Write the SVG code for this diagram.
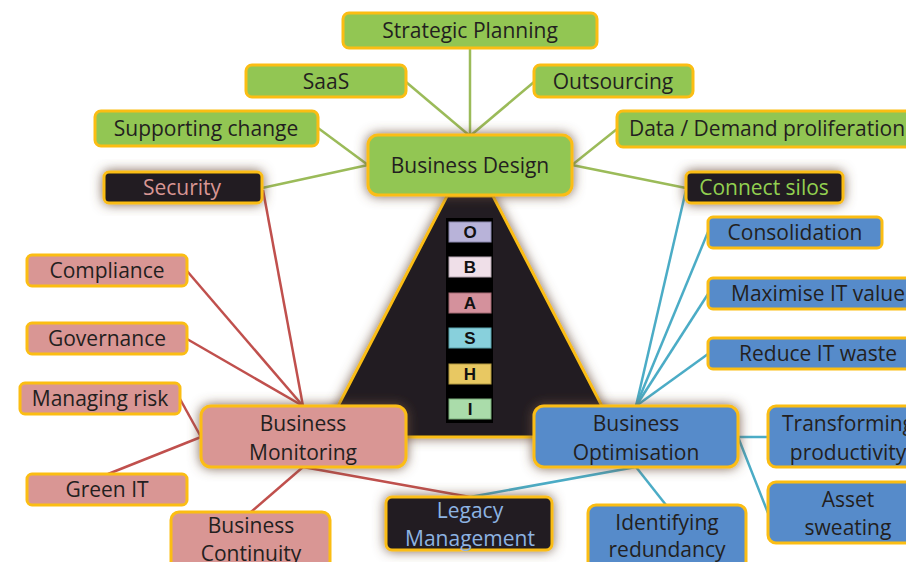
<svg xmlns="http://www.w3.org/2000/svg" width="906" height="562" viewBox="0 0 906 562">
<defs>
<filter id="glow" x="-30%" y="-40%" width="160%" height="180%">
<feGaussianBlur in="SourceAlpha" stdDeviation="6" result="b"/>
<feFlood flood-color="#6b4f3c" flood-opacity="0.85"/>
<feComposite operator="in" in2="b" result="s"/>
<feMerge><feMergeNode in="s"/><feMergeNode in="SourceGraphic"/></feMerge>
</filter>
</defs>
<style>
text{font-family:"Open Sans","Liberation Sans",sans-serif;font-size:21px;fill:#231f20;text-anchor:middle}
.g{fill:#92c653;stroke:#fbbd13;stroke-width:3}
.r{fill:#d99694;stroke:#fbbd13;stroke-width:3}
.b{fill:#568bca;stroke:#fbbd13;stroke-width:3}
.k{fill:#231f20;stroke:#fbbd13;stroke-width:3}
.cg{stroke:#9bbb59;stroke-width:2.5;fill:none}
.cr{stroke:#c0504d;stroke-width:2.5;fill:none}
.cb{stroke:#4bacc6;stroke-width:2.5;fill:none}
.lt{font-family:"Liberation Sans",sans-serif;font-size:17px;font-weight:bold;fill:#111}
.big{font-size:21px}
</style>
<rect width="906" height="562" fill="#ffffff"/>

<g id="pyramid">
<path d="M447,196 L493,196 L618,437 L322,437 Z" fill="#231f20" stroke="#fbbd13" stroke-width="3" filter="url(#glow)"/>
<rect x="446" y="218" width="47" height="205" fill="#000"/>
<rect x="449" y="222" width="42" height="20" fill="#b8b3d9" stroke="#8c89ae" stroke-width="1"/><text class="lt" x="470" y="238">O</text>
<rect x="449" y="257" width="42" height="20" fill="#efdfe8" stroke="#b8a8b3" stroke-width="1"/><text class="lt" x="470" y="273">B</text>
<rect x="449" y="293" width="42" height="20" fill="#d4919c" stroke="#a46a74" stroke-width="1"/><text class="lt" x="470" y="309">A</text>
<rect x="449" y="328" width="42" height="20" fill="#88d0dc" stroke="#5aa3ae" stroke-width="1"/><text class="lt" x="470" y="344">S</text>
<rect x="449" y="364" width="42" height="20" fill="#e8c862" stroke="#b39a40" stroke-width="1"/><text class="lt" x="470" y="380">H</text>
<rect x="449" y="399" width="42" height="20" fill="#aadcaa" stroke="#7aae7a" stroke-width="1"/><text class="lt" x="470" y="415">I</text>
</g>

<g id="connectors">
<line class="cg" x1="470" y1="48" x2="470" y2="136"/>
<line class="cg" x1="406" y1="82" x2="470" y2="136"/>
<line class="cg" x1="534" y1="82" x2="470" y2="136"/>
<line class="cg" x1="318" y1="128" x2="368" y2="165"/>
<line class="cg" x1="262" y1="188" x2="368" y2="165"/>
<line class="cg" x1="617" y1="129" x2="572" y2="165"/>
<line class="cg" x1="686" y1="188" x2="572" y2="165"/>
<line class="cr" x1="263" y1="190" x2="303" y2="406"/>
<line class="cr" x1="187" y1="271" x2="303" y2="406"/>
<line class="cr" x1="187" y1="339" x2="303" y2="406"/>
<line class="cr" x1="180" y1="399" x2="201" y2="437"/>
<line class="cr" x1="108" y1="474" x2="201" y2="437"/>
<line class="cr" x1="251" y1="512" x2="303" y2="467"/>
<line class="cr" x1="303" y1="467" x2="470" y2="497"/>
<line class="cb" x1="470" y1="497" x2="636" y2="467"/>
<line class="cb" x1="686" y1="190" x2="636" y2="406"/>
<line class="cb" x1="708" y1="232" x2="636" y2="406"/>
<line class="cb" x1="708" y1="294" x2="636" y2="406"/>
<line class="cb" x1="708" y1="354" x2="636" y2="406"/>
<polyline class="cb" points="768,437 738,437 768,513"/>
<line class="cb" x1="666" y1="505" x2="636" y2="467"/>
</g>

<g id="business-design"><rect class="g" x="368" y="135" width="204" height="60" rx="10" filter="url(#glow)"/><text class="big" x="470" y="173">Business Design</text></g>
<g id="strategic-planning"><rect class="g" x="343" y="13" width="254" height="35" rx="6"/><text x="470" y="38">Strategic Planning</text></g>
<g id="saas"><rect class="g" x="246" y="65" width="160" height="32" rx="6"/><text x="326" y="89">SaaS</text></g>
<g id="outsourcing"><rect class="g" x="534" y="65" width="159" height="32" rx="6"/><text x="613" y="89">Outsourcing</text></g>
<g id="supporting-change"><rect class="g" x="95" y="111" width="223" height="35" rx="6"/><text x="206" y="136">Supporting change</text></g>
<g id="data-demand"><rect class="g" x="617" y="111" width="310" height="36" rx="6"/><text x="767" y="136">Data / Demand proliferation</text></g>
<g id="security"><rect class="k" x="104" y="172" width="158" height="31" rx="5" filter="url(#glow)"/><text x="182" y="195" style="fill:#d99694">Security</text></g>
<g id="connect-silos"><rect class="k" x="686" y="172" width="157" height="31" rx="5" filter="url(#glow)"/><text x="764" y="195" style="fill:#92d050">Connect silos</text></g>

<g id="consolidation"><rect class="b" x="708" y="217" width="174" height="31" rx="5"/><text x="795" y="240">Consolidation</text></g>
<g id="maximise"><rect class="b" x="708" y="278" width="220" height="31" rx="5"/><text x="818" y="301">Maximise IT value</text></g>
<g id="reduce"><rect class="b" x="708" y="338" width="220" height="31" rx="5"/><text x="818" y="361">Reduce IT waste</text></g>

<g id="compliance"><rect class="r" x="27" y="255" width="160" height="31" rx="5"/><text x="107" y="278">Compliance</text></g>
<g id="governance"><rect class="r" x="27" y="323" width="160" height="31" rx="5"/><text x="107" y="346">Governance</text></g>
<g id="managing-risk"><rect class="r" x="20" y="383" width="160" height="31" rx="5"/><text x="100" y="406">Managing risk</text></g>
<g id="green-it"><rect class="r" x="27" y="474" width="160" height="31" rx="5"/><text x="107" y="497">Green IT</text></g>

<g id="business-monitoring"><rect class="r" x="201" y="406" width="205" height="61" rx="10" filter="url(#glow)"/><text class="big" x="303" y="431">Business</text><text class="big" x="303" y="460">Monitoring</text></g>
<g id="business-optimisation"><rect class="b" x="534" y="406" width="204" height="61" rx="10" filter="url(#glow)"/><text class="big" x="636" y="431">Business</text><text class="big" x="636" y="460">Optimisation</text></g>

<g id="business-continuity"><rect class="r" x="171" y="512" width="159" height="70" rx="8"/><text x="251" y="533">Business</text><text x="251" y="561">Continuity</text></g>
<g id="legacy"><rect class="k" x="386" y="497" width="166" height="53" rx="6" filter="url(#glow)"/><text x="470" y="518" style="fill:#8db3e2">Legacy</text><text x="470" y="546" style="fill:#8db3e2">Management</text></g>
<g id="identifying"><rect class="b" x="588" y="505" width="158" height="70" rx="8"/><text x="667" y="530">Identifying</text><text x="667" y="557">redundancy</text></g>
<g id="transforming"><rect class="b" x="768" y="406" width="160" height="61" rx="8"/><text x="848" y="431">Transforming</text><text x="848" y="460">productivity</text></g>
<g id="asset-sweating"><rect class="b" x="768" y="482" width="160" height="61" rx="8"/><text x="848" y="507">Asset</text><text x="848" y="535">sweating</text></g>
</svg>
